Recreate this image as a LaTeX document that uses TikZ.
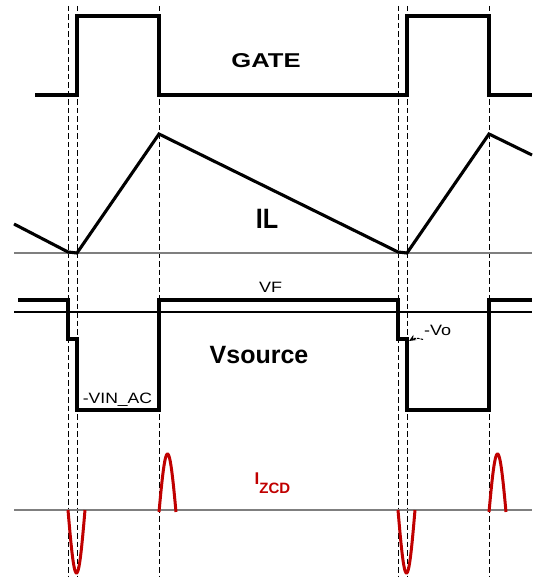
\documentclass[tikz,border=0pt]{standalone}
\usepackage{fontspec}
\setmainfont{Liberation Sans}
\usetikzlibrary{arrows.meta}
\definecolor{axisgray}{HTML}{7F7F7F}
\definecolor{zcdred}{HTML}{C00000}
\begin{document}
\begin{tikzpicture}[x=1pt,y=-1pt,
  wave/.style={line width=3.1pt, line join=miter, line cap=butt},
  guide/.style={line width=1pt, dash pattern=on 5.5pt off 3pt},
  axisline/.style={line width=1.7pt, draw=axisgray},
  thinline/.style={line width=1.1pt},
  lobe/.style={line width=3pt, draw=zcdred},
  title/.style={font=\bfseries, inner sep=0pt, anchor=base},
  lbl/.style={inner sep=0pt}]
\useasboundingbox (0,0) rectangle (532,577);

% dashed guide lines
\foreach \gx in {68,77,159,398,407,489}
  \draw[guide] (\gx,6) -- (\gx,577);

% GATE
\draw[wave] (35,95) -- (77,95) -- (77,16) -- (159,16) -- (159,95)
  -- (407,95) -- (407,16) -- (489,16) -- (489,95) -- (532,95);
\node[title] (gate) at (266,68) {\fontsize{20}{21}\selectfont\scalebox{1.28}[1]{GATE}};

% IL
\draw[axisline] (14,253) -- (532,253);
\draw[wave] (14,224) -- (68,252) -- (77,253) -- (159,134) -- (398,252)
  -- (407,253) -- (489,134) -- (532,155);
\node[title] (il) at (267,228) {\fontsize{28}{30}\selectfont\scalebox{0.9}[1]{IL}};

% Vsource
\draw[thinline] (14,312) -- (532,312);
\draw[wave] (18,300) -- (68,300) -- (68,339) -- (77,339) -- (77,410)
  -- (159,410) -- (159,300) -- (398,300) -- (398,339) -- (407,339)
  -- (407,410) -- (489,410) -- (489,300) -- (532,300);
\node[title] (vs) at (259,363) {\fontsize{25}{27}\selectfont Vsource};
\node[lbl, anchor=base] (vf) at (270.5,292) {\fontsize{15}{16}\selectfont\scalebox{1.2}[1]{VF}};
\node[lbl, anchor=base] (vin) at (117.5,403) {\fontsize{15}{16}\selectfont\scalebox{1.17}[1]{-VIN\_AC}};
\node[lbl, anchor=base west] (vo) at (424,335) {\fontsize{15}{16}\selectfont\scalebox{1.2}[1]{-Vo}};
\coordinate (votip) at (409,341);
\draw[line width=1pt, dash pattern=on 2.5pt off 1pt, -{Stealth[length=7pt,width=6pt]}]
  ([xshift=-1pt,yshift=-4.5pt]vo.base west) to[bend right=25] (votip);

% IZCD
\draw[axisline] (14,510) -- (532,510);
\draw[lobe] plot[domain=0:1, samples=40, variable=\t] ({68+17*\t},{510+63*sin(180*\t)});
\draw[lobe] plot[domain=0:1, samples=40, variable=\t] ({159+17*\t},{512-58*sin(180*\t)});
\draw[lobe] plot[domain=0:1, samples=40, variable=\t] ({398+17*\t},{510+63*sin(180*\t)});
\draw[lobe] plot[domain=0:1, samples=40, variable=\t] ({489+17*\t},{512-58*sin(180*\t)});
\node[title, anchor=base west, text=zcdred] (izcd) at (254.5,484)
  {\fontsize{17}{18}\selectfont I\raisebox{-9pt}{\fontsize{15}{16}\selectfont ZCD}};
\end{tikzpicture}
\end{document}
